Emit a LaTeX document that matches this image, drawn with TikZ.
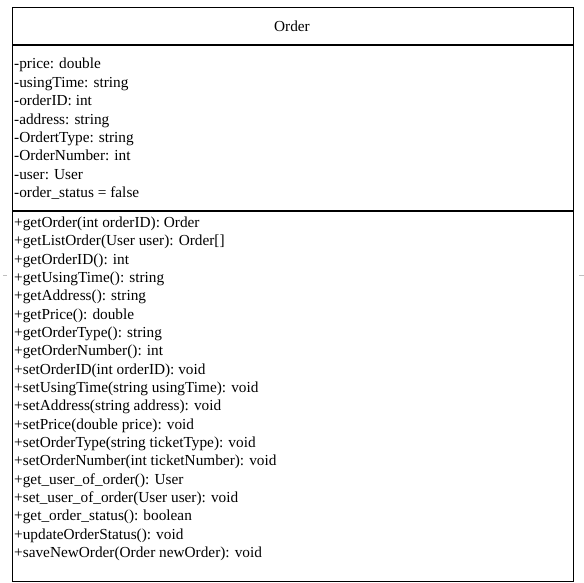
\documentclass[tikz,border=0pt]{standalone}
\usepackage{fontspec}
\setmainfont{Liberation Serif}
\usetikzlibrary{positioning}

\tikzset{
    member/.style={anchor=base west, inner sep=0pt, font=\fontsize{15.3}{18}\selectfont},
    classbox/.style={draw, line width=1.3pt, fill=white, inner sep=0pt},
    sepline/.style={line width=1.3pt},
    hidden/.style={draw=black!25, line width=1pt}
}

\begin{document}
\begin{tikzpicture}[x=1pt,y=-1pt]
    \useasboundingbox (0,0) rectangle (584,583);
    % stray dashes of a line behind the class
    \coordinate (l1) at (3,275);
    \coordinate (l2) at (7,275);
    \coordinate (r1) at (579,275);
    \coordinate (r2) at (584,275);
    \draw[hidden] (l1) -- (l2);
    \draw[hidden] (r1) -- (r2);
    \node[classbox, anchor=north west, minimum width=561pt, minimum height=574pt] (order) at (12,7) {};
    \coordinate (s1) at (12,45);
    \coordinate (s2) at (12,211);
    \draw[sepline] (s1) -- (s1 -| order.east);
    \draw[sepline] (s2) -- (s2 -| order.east);
    \node[member, anchor=base] (title) at (292,31.5) {Order};
    \foreach \txt [count=\i] in {-price: double, -usingTime: string, -orderID: int,
        -address: string, -OrdertType: string, -OrderNumber: int, -user: User,
        -order\_status = false}
        \node[member] (a\i) at (14,{69+(\i-1)*18.4}) {\txt};
    \foreach \txt [count=\i] in {+getOrder(int orderID): Order,
        +getListOrder(User user): Order[], +getOrderID(): int,
        +getUsingTime(): string, +getAddress(): string, +getPrice(): double,
        +getOrderType(): string, +getOrderNumber(): int,
        +setOrderID(int orderID): void, +setUsingTime(string usingTime): void,
        +setAddress(string address): void, +setPrice(double price): void,
        +setOrderType(string ticketType): void,
        +setOrderNumber(int ticketNumber): void, +get\_user\_of\_order(): User,
        +set\_user\_of\_order(User user): void, +get\_order\_status(): boolean,
        +updateOrderStatus(): void, +saveNewOrder(Order newOrder): void}
        \node[member] (m\i) at (14,{227.5+(\i-1)*18.33}) {\txt};
\end{tikzpicture}
\end{document}
